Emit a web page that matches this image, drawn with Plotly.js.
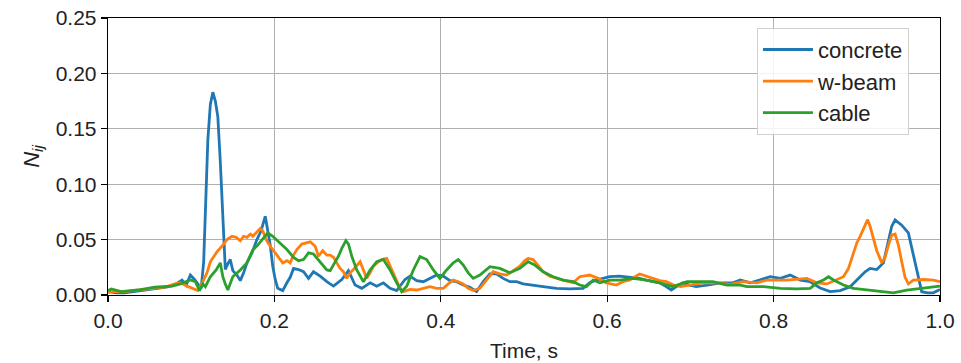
<!DOCTYPE html>
<html>
<head>
<meta charset="utf-8">
<script src="https://cdn.plot.ly/plotly-3.0.1.min.js"></script>
<style>html,body{margin:0;padding:0;background:#fff;}#chart{width:961px;height:363px;}</style>
</head>
<body>
<div id="chart"></div>
<script>
// ---- data ----
const seriesNames = ["concrete", "w-beam", "cable"];

const concreteT = [0.000,0.010,0.020,0.030,0.040,0.050,0.060,0.070,0.080,0.089,0.094,0.099,0.104,0.108,0.112,0.115,0.118,0.120,0.123,0.126,0.129,0.132,0.135,0.137,0.139,0.141,0.144,0.147,0.150,0.155,0.159,0.163,0.167,0.173,0.179,0.184,0.189,0.192,0.195,0.198,0.201,0.204,0.210,0.215,0.219,0.223,0.229,0.235,0.241,0.247,0.255,0.263,0.271,0.281,0.289,0.297,0.305,0.315,0.323,0.331,0.339,0.347,0.357,0.363,0.371,0.379,0.387,0.395,0.403,0.411,0.419,0.427,0.435,0.443,0.451,0.459,0.467,0.475,0.483,0.491,0.499,0.507,0.523,0.539,0.555,0.571,0.579,0.587,0.595,0.603,0.615,0.627,0.639,0.647,0.655,0.663,0.670,0.677,0.684,0.691,0.699,0.707,0.720,0.736,0.751,0.760,0.772,0.784,0.796,0.808,0.820,0.832,0.844,0.856,0.868,0.880,0.892,0.898,0.904,0.910,0.916,0.924,0.932,0.938,0.942,0.946,0.954,0.962,0.968,0.974,0.978,0.985,0.992,1.000];
const concreteV = [0.003,0.002,0.002,0.003,0.004,0.005,0.006,0.007,0.009,0.0135,0.009,0.018,0.014,0.010,0.006,0.030,0.110,0.140,0.172,0.183,0.175,0.161,0.120,0.089,0.050,0.023,0.028,0.032,0.022,0.018,0.013,0.020,0.029,0.038,0.050,0.058,0.071,0.059,0.045,0.026,0.014,0.006,0.004,0.011,0.016,0.024,0.023,0.021,0.015,0.021,0.017,0.012,0.008,0.014,0.022,0.009,0.006,0.011,0.008,0.011,0.006,0.004,0.014,0.017,0.013,0.012,0.015,0.018,0.017,0.013,0.012,0.009,0.007,0.003,0.012,0.019,0.019,0.015,0.012,0.012,0.010,0.009,0.0075,0.006,0.0055,0.006,0.011,0.0135,0.015,0.0165,0.017,0.016,0.015,0.0135,0.012,0.011,0.008,0.0045,0.008,0.011,0.009,0.0075,0.009,0.011,0.011,0.0135,0.011,0.0135,0.0165,0.015,0.018,0.0135,0.012,0.0063,0.003,0.004,0.0075,0.012,0.0165,0.021,0.024,0.023,0.029,0.050,0.062,0.0677,0.063,0.056,0.035,0.0165,0.003,0.002,0.002,0.005];

const wbeamT = [0.000,0.004,0.020,0.036,0.052,0.068,0.080,0.087,0.095,0.102,0.108,0.114,0.119,0.123,0.131,0.138,0.143,0.149,0.154,0.159,0.163,0.167,0.171,0.174,0.179,0.183,0.186,0.190,0.195,0.199,0.203,0.210,0.215,0.219,0.223,0.227,0.233,0.239,0.243,0.249,0.253,0.258,0.263,0.267,0.271,0.275,0.279,0.283,0.287,0.291,0.295,0.303,0.307,0.311,0.315,0.319,0.325,0.329,0.335,0.339,0.343,0.347,0.351,0.355,0.363,0.371,0.379,0.387,0.395,0.403,0.409,0.415,0.421,0.427,0.433,0.439,0.447,0.455,0.463,0.471,0.479,0.487,0.495,0.501,0.505,0.511,0.517,0.523,0.531,0.539,0.547,0.559,0.567,0.579,0.589,0.599,0.611,0.619,0.627,0.639,0.647,0.655,0.663,0.671,0.680,0.688,0.700,0.715,0.731,0.748,0.763,0.780,0.792,0.816,0.840,0.852,0.864,0.876,0.884,0.890,0.896,0.900,0.904,0.908,0.913,0.916,0.920,0.924,0.930,0.934,0.938,0.942,0.946,0.950,0.954,0.958,0.962,0.968,0.980,0.992,1.000];
const wbeamV = [0.002,0.003,0.003,0.0045,0.006,0.007,0.010,0.011,0.008,0.006,0.004,0.012,0.020,0.030,0.039,0.045,0.050,0.053,0.052,0.049,0.053,0.052,0.055,0.053,0.057,0.060,0.058,0.050,0.044,0.040,0.036,0.029,0.031,0.029,0.036,0.041,0.046,0.047,0.048,0.044,0.035,0.040,0.036,0.036,0.034,0.029,0.024,0.021,0.015,0.020,0.023,0.030,0.022,0.015,0.020,0.026,0.030,0.032,0.033,0.026,0.020,0.0135,0.006,0.003,0.005,0.0045,0.006,0.0075,0.006,0.006,0.010,0.0135,0.012,0.010,0.006,0.004,0.006,0.0135,0.021,0.019,0.018,0.022,0.026,0.031,0.033,0.032,0.026,0.021,0.017,0.015,0.0135,0.011,0.0165,0.018,0.015,0.011,0.009,0.012,0.0135,0.019,0.017,0.015,0.013,0.012,0.009,0.0075,0.009,0.011,0.011,0.0095,0.012,0.011,0.0135,0.0135,0.015,0.011,0.010,0.0135,0.0165,0.024,0.038,0.047,0.053,0.059,0.068,0.062,0.050,0.040,0.029,0.034,0.045,0.054,0.055,0.045,0.030,0.016,0.010,0.0135,0.014,0.0135,0.012];

const cableT = [0.000,0.004,0.016,0.036,0.056,0.077,0.087,0.099,0.105,0.110,0.114,0.117,0.123,0.130,0.135,0.138,0.141,0.144,0.150,0.159,0.167,0.174,0.180,0.185,0.192,0.198,0.207,0.215,0.223,0.229,0.235,0.241,0.247,0.255,0.263,0.267,0.271,0.277,0.281,0.286,0.289,0.293,0.299,0.307,0.315,0.323,0.331,0.339,0.347,0.353,0.359,0.367,0.375,0.383,0.391,0.399,0.407,0.415,0.421,0.427,0.433,0.439,0.447,0.459,0.471,0.483,0.495,0.505,0.513,0.523,0.535,0.547,0.559,0.567,0.575,0.583,0.591,0.603,0.615,0.631,0.647,0.663,0.679,0.696,0.712,0.727,0.744,0.760,0.768,0.788,0.808,0.828,0.844,0.852,0.860,0.866,0.872,0.884,0.896,0.912,0.928,0.944,0.960,0.976,0.992,1.000];
const cableV = [0.004,0.0054,0.003,0.0045,0.007,0.008,0.010,0.0135,0.012,0.004,0.010,0.0075,0.0165,0.0226,0.029,0.0165,0.010,0.0045,0.0165,0.0226,0.029,0.0406,0.045,0.050,0.056,0.053,0.047,0.041,0.034,0.031,0.032,0.038,0.037,0.030,0.0226,0.022,0.027,0.035,0.042,0.049,0.046,0.035,0.0226,0.012,0.0226,0.030,0.032,0.0226,0.011,0.003,0.008,0.0226,0.0346,0.032,0.0226,0.015,0.0226,0.029,0.032,0.027,0.020,0.015,0.018,0.0256,0.024,0.020,0.024,0.030,0.027,0.021,0.0165,0.0135,0.012,0.009,0.0075,0.0135,0.011,0.0135,0.0135,0.015,0.0135,0.011,0.0075,0.012,0.012,0.012,0.009,0.009,0.0075,0.0075,0.006,0.0055,0.006,0.011,0.0135,0.0165,0.0135,0.009,0.006,0.0045,0.003,0.002,0.0045,0.006,0.0075,0.008];

const xTickVals = [0, 0.2, 0.4, 0.6, 0.8, 1.0];
const xTickText = ["0.0", "0.2", "0.4", "0.6", "0.8", "1.0"];
const yTickVals = [0, 0.05, 0.10, 0.15, 0.20, 0.25];
const yTickText = ["0.00", "0.05", "0.10", "0.15", "0.20", "0.25"];

const colors = ["#1f77b4", "#ff7f0e", "#2ca02c"];
const xs = [concreteT, wbeamT, cableT];
const ys = [concreteV, wbeamV, cableV];

const traces = seriesNames.map((n, i) => ({
  x: xs[i], y: ys[i], name: n, type: "scatter", mode: "lines",
  line: {color: colors[i], width: 2.8}
}));

const fam = "Liberation Sans, Arial, sans-serif";
const font = {family: fam, size: 21, color: "#222"};

const layout = {
  width: 961, height: 363,
  margin: {l: 108, r: 21, t: 18, b: 68},
  paper_bgcolor: "#fff", plot_bgcolor: "#fff",
  font: font,
  showlegend: true,
  legend: {
    x: 0.78, y: 0.965, xanchor: "left", yanchor: "top",
    bgcolor: "rgba(255,255,255,0.85)", bordercolor: "#d0d0d0", borderwidth: 1,
    font: {family: fam, size: 22, color: "#222"},
    itemwidth: 50
  },
  xaxis: {
    range: [0, 1], tickvals: xTickVals, ticktext: xTickText,
    tickfont: {family: fam, size: 21, color: "#222"},
    showgrid: true, gridcolor: "#b0b0b0", gridwidth: 1.3,
    showline: true, linecolor: "#000", linewidth: 1.3, mirror: true,
    ticks: "outside", ticklen: 6, tickcolor: "#000", tickwidth: 1.3,
    zeroline: false,
    title: {text: "Time, s", font: {family: fam, size: 21, color: "#222"}, standoff: 12}
  },
  yaxis: {
    range: [0, 0.25], tickvals: yTickVals, ticktext: yTickText,
    tickfont: {family: fam, size: 21, color: "#222"},
    showgrid: true, gridcolor: "#b0b0b0", gridwidth: 1.3,
    showline: true, linecolor: "#000", linewidth: 1.3, mirror: true,
    ticks: "outside", ticklen: 6, tickcolor: "#000", tickwidth: 1.3,
    zeroline: false,
    title: {text: "<i>N</i><sub><i>ij</i></sub>", font: {family: fam, size: 22, color: "#222"}, standoff: 10}
  }
};

Plotly.newPlot("chart", traces, layout, {displayModeBar: false, staticPlot: true});
</script>
</body>
</html>
